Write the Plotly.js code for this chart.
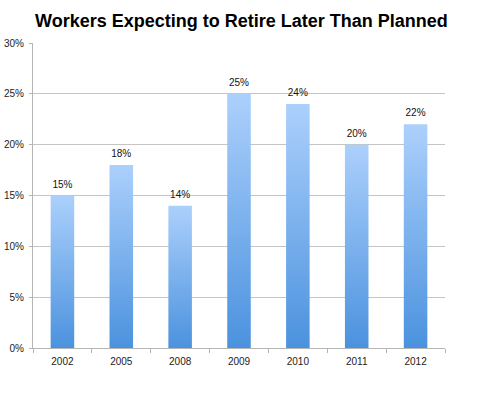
<!DOCTYPE html>
<html><head><meta charset="utf-8">
<script src="https://cdn.plot.ly/plotly-3.0.1.min.js"></script>
<style>html,body{margin:0;padding:0;background:#fff}</style>
</head><body>
<div id="chart" style="width:480px;height:395px"></div>
<script>
const years = ['2002','2005','2008','2009','2010','2011','2012'];
const percents = [15, 18, 14, 25, 24, 20, 22];
const labels = percents.map(v => v + '%');

const trace = {
  type: 'bar', x: years, y: percents,
  text: labels, textposition: 'outside', cliponaxis: false,
  textfont: {family: 'Liberation Sans, Arial, sans-serif', size: 10, color: '#111'},
  marker: {color: '#7ab0ee', line: {width: 0}},
  width: 0.4, hoverinfo: 'none'
};
const layout = {
  width: 480, height: 395,
  margin: {l: 33, r: 35, t: 43, b: 47},
  paper_bgcolor: '#fff', plot_bgcolor: '#fff',
  font: {family: 'Liberation Sans, Arial, sans-serif', size: 10, color: '#222'},
  title: {text: '<b>Workers Expecting to Retire Later Than Planned</b>',
    font: {family: 'Liberation Sans, Arial, sans-serif', size: 18, color: '#000'},
    x: 0.503, xanchor: 'center', yref: 'container', y: 1 - 21/395, yanchor: 'middle'},
  xaxis: {type: 'category', showline: true, linecolor: '#b5b5b5', linewidth: 1,
    ticks: 'outside', tickson: 'boundaries', ticklen: 4, tickcolor: '#b5b5b5',
    ticklabelstandoff: 4,
    showgrid: false, zeroline: false, tickfont: {size: 10, color: '#222'}},
  yaxis: {range: [0, 30], dtick: 5, ticksuffix: '%', showline: true, linecolor: '#b5b5b5',
    ticks: 'outside', ticklen: 3, tickcolor: '#b5b5b5', gridcolor: '#c4c4c4', gridwidth: 1.3,
    ticklabelstandoff: 3,
    zeroline: false, tickfont: {size: 10, color: '#222'}},
  showlegend: false, bargap: 0.6
};
Plotly.newPlot('chart', [trace], layout, {staticPlot: true, displayModeBar: false}).then(gd => {
  const svg = gd.querySelector('svg.main-svg');
  const ns = 'http://www.w3.org/2000/svg';
  let defs = svg.querySelector('defs');
  if (!defs) { defs = document.createElementNS(ns, 'defs'); svg.insertBefore(defs, svg.firstChild); }
  const g = document.createElementNS(ns, 'linearGradient');
  g.setAttribute('id', 'barGrad');
  g.setAttribute('x1', '0'); g.setAttribute('y1', '0'); g.setAttribute('x2', '0'); g.setAttribute('y2', '1');
  [['0', '#acd0fc'], ['1', '#4b92de']].forEach(([o, c]) => {
    const s = document.createElementNS(ns, 'stop');
    s.setAttribute('offset', o); s.setAttribute('stop-color', c);
    g.appendChild(s);
  });
  defs.appendChild(g);
  gd.querySelectorAll('.barlayer .point path').forEach(p => {
    p.style.fill = 'url(#barGrad)';
  });
  gd.querySelectorAll('.barlayer .point text').forEach(t => {
    const tr = t.getAttribute('transform') || '';
    t.setAttribute('transform', 'translate(0,-3) ' + tr);
  });
});
</script>
</body></html>
